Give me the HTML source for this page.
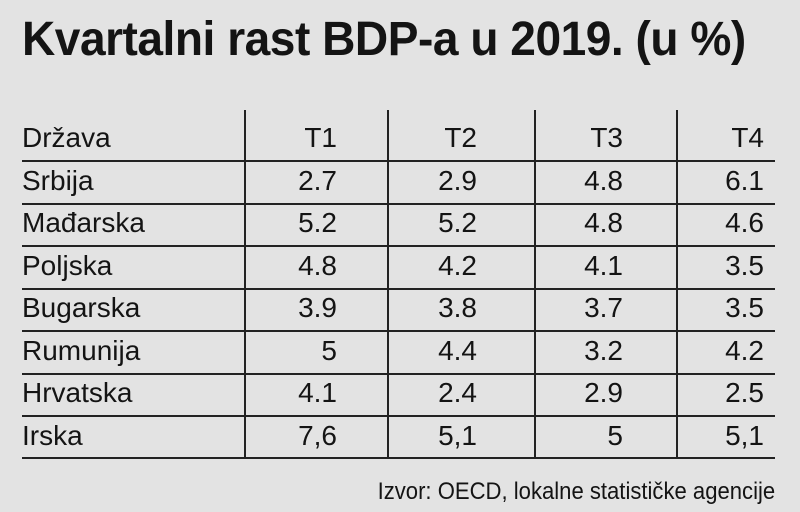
<!DOCTYPE html>
<html><head><meta charset="utf-8"><style>
body{margin:0;width:800px;height:512px;background:#e3e3e3;position:relative;overflow:hidden;font-family:"Liberation Sans",sans-serif;color:#141414}
.t{position:absolute;left:22px;top:12px;font-size:48px;font-weight:bold;transform:scaleX(0.96);transform-origin:0 0;white-space:nowrap;letter-spacing:-0.5px}
.h{position:absolute;left:22px;width:753px;height:2px;background:#222}
.v{position:absolute;top:110px;height:349px;width:2px;background:#222}
.c{position:absolute;font-size:28px;white-space:nowrap;line-height:42px}
.r{text-align:right;width:120px}
.f{position:absolute;right:25px;top:478px;font-size:24px;transform:scaleX(0.92);transform-origin:100% 0;white-space:nowrap}
</style></head><body>
<div class="t">Kvartalni rast BDP-a u 2019. (u %)</div>
<div class="v" style="left:244px"></div><div class="v" style="left:387px"></div><div class="v" style="left:534px"></div><div class="v" style="left:676px"></div>
<div class="h" style="top:160px"></div><div class="h" style="top:203px"></div><div class="h" style="top:245px"></div><div class="h" style="top:288px"></div><div class="h" style="top:330px"></div><div class="h" style="top:373px"></div><div class="h" style="top:415px"></div><div class="h" style="top:457px"></div>
<div id="tb"></div>
<div class="f">Izvor: OECD, lokalne statističke agencije</div>
<script>
var rows=[["Država","T1","T2","T3","T4"],["Srbija","2.7","2.9","4.8","6.1"],["Mađarska","5.2","5.2","4.8","4.6"],["Poljska","4.8","4.2","4.1","3.5"],["Bugarska","3.9","3.8","3.7","3.5"],["Rumunija","5","4.4","3.2","4.2"],["Hrvatska","4.1","2.4","2.9","2.5"],["Irska","7,6","5,1","5","5,1"]];
var rx=[337,477,623,764],h="";
rows.forEach(function(r,i){var y=117+i*42.5;
h+='<div class="c" style="left:22px;top:'+y+'px">'+r[0]+'</div>';
for(var j=1;j<5;j++)h+='<div class="c r" style="left:'+(rx[j-1]-120)+'px;top:'+y+'px">'+r[j]+'</div>';});
document.getElementById('tb').innerHTML=h;
</script>
</body></html>
